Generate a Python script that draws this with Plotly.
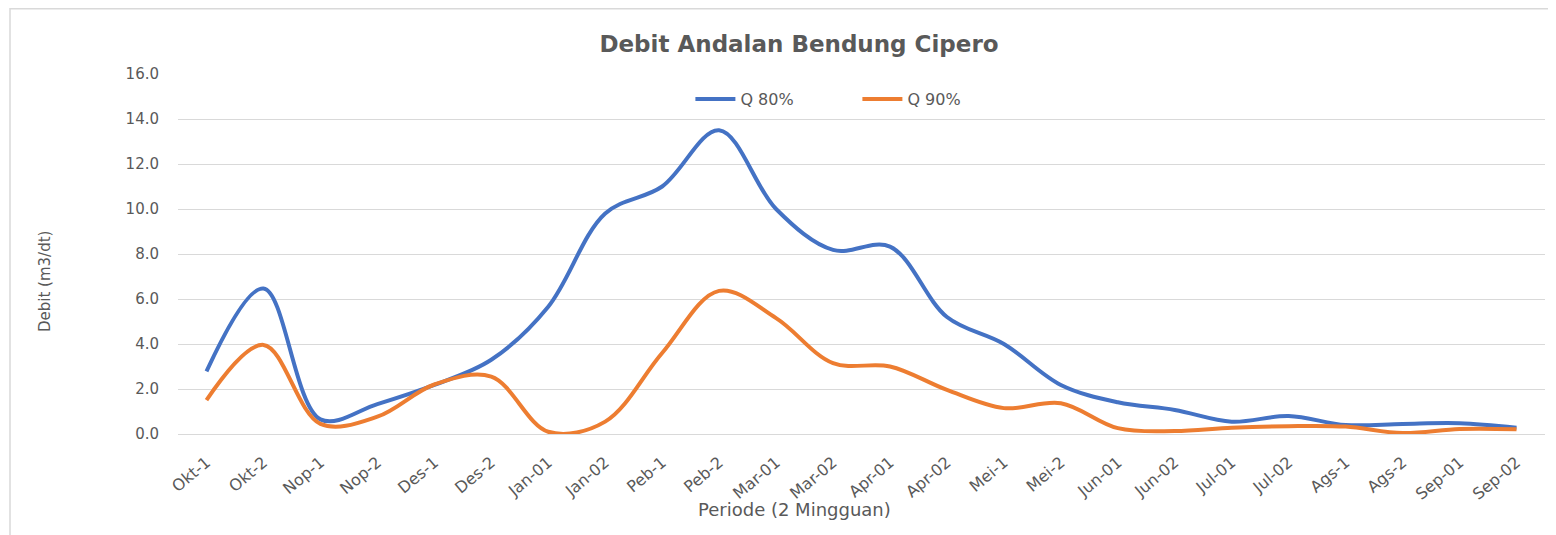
import plotly.graph_objects as go

periods = ["Okt-1", "Okt-2", "Nop-1", "Nop-2", "Des-1", "Des-2", "Jan-01", "Jan-02",
           "Peb-1", "Peb-2", "Mar-01", "Mar-02", "Apr-01", "Apr-02", "Mei-1", "Mei-2",
           "Jun-01", "Jun-02", "Jul-01", "Jul-02", "Ags-1", "Ags-2", "Sep-01", "Sep-02"]
q80 = [2.78, 6.47, 0.65, 1.33, 2.18, 3.3, 5.66, 9.8, 11.0, 13.5, 10.0, 8.18,
       8.33, 5.2, 4.0, 2.18, 1.41, 1.07, 0.55, 0.8, 0.4, 0.45, 0.48, 0.28]
q90 = [1.51, 3.96, 0.45, 0.77, 2.2, 2.55, 0.1, 0.55, 3.6, 6.36, 5.15, 3.15,
       3.0, 1.96, 1.15, 1.37, 0.26, 0.13, 0.28, 0.35, 0.33, 0.04, 0.22, 0.21]
y_ticks = [0, 2, 4, 6, 8, 10, 12, 14, 16]

FONT = "DejaVu Sans"
GRAY = "#595959"

W, H = 1548, 527
L, R, T, B = 170, 11, 66, 101
PW, PH = W - L - R, H - T - B
OFF = 8  # page offset of the figure inside the browser window


def px_x(sx):
    """screen x pixel -> paper x"""
    return (sx - OFF - L) / PW


def px_y(sy):
    """screen y pixel -> paper y"""
    return (T + PH - (sy - OFF)) / PH


fig = go.Figure()
fig.add_trace(go.Scatter(x=periods, y=q80, name="Q 80%", mode="lines",
                         line=dict(color="#4472C4", width=4, shape="spline", smoothing=1.0)))
fig.add_trace(go.Scatter(x=periods, y=q90, name="Q 90%", mode="lines",
                         line=dict(color="#ED7D31", width=4, shape="spline", smoothing=1.0)))

fig.update_layout(
    width=W, height=H,
    margin=dict(l=L, r=R, t=T, b=B),
    paper_bgcolor="white", plot_bgcolor="white",
    font=dict(family=FONT, color=GRAY, size=15),
    title=dict(text="<b>Debit Andalan Bendung Cipero</b>", x=(799 - OFF) / W, xanchor="center",
               y=1 - (44 - OFF) / H, yanchor="middle",
               font=dict(family=FONT, size=23, color=GRAY)),
    legend=dict(orientation="h", x=0.497, xanchor="center", y=px_y(99), yanchor="middle",
                font=dict(family=FONT, size=16, color=GRAY), bgcolor="rgba(0,0,0,0)",
                itemwidth=40, tracegroupgap=0, entrywidth=112),
    showlegend=True,
    annotations=[
        dict(text="Periode (2 Mingguan)", xref="paper", yref="paper",
             x=px_x(794), y=px_y(510), xanchor="center", yanchor="middle",
             showarrow=False, font=dict(family=FONT, size=18, color=GRAY)),
        dict(text="Debit (m3/dt)", xref="paper", yref="paper", textangle=-90,
             x=px_x(45), y=px_y(282), xanchor="center", yanchor="middle",
             showarrow=False, font=dict(family=FONT, size=15, color=GRAY)),
    ],
)
fig.update_xaxes(
    type="category", range=[-0.5, 23.5], tickangle=-40,
    tickfont=dict(family=FONT, size=16, color=GRAY),
    showgrid=False, showline=False,
    ticks="outside", ticklen=12, tickcolor="rgba(0,0,0,0)",
)
fig.update_yaxes(
    range=[0, 16], tickvals=y_ticks, tickformat=".1f",
    tickfont=dict(family=FONT, size=15, color=GRAY),
    showgrid=True, gridcolor="#d9d9d9", gridwidth=1,
    zeroline=True, zerolinecolor="#d9d9d9", zerolinewidth=1,
    ticks="outside", ticklen=15, tickcolor="rgba(0,0,0,0)",
)
# chart frame
fig.add_shape(type="rect", xref="paper", yref="paper",
              x0=(2 - L) / PW, x1=(W + 20 - L) / PW,
              y0=(T + PH - (H + 20)) / PH, y1=(T + PH - 0.75) / PH,
              line=dict(color="#d9d9d9", width=1.5), layer="below")

fig.write_html("out.html")
